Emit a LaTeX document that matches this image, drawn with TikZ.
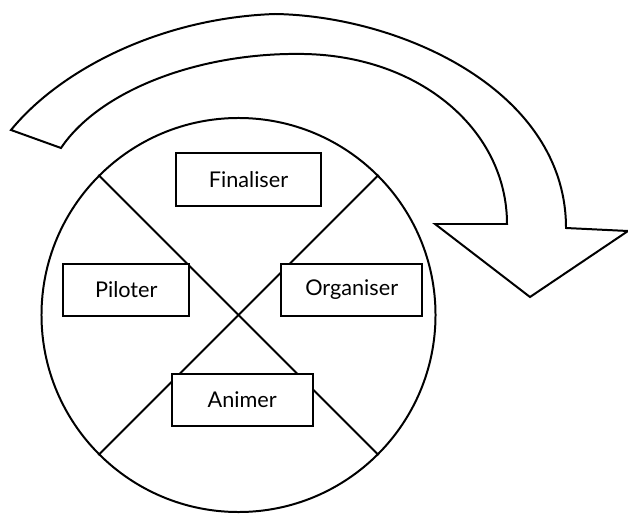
\documentclass[tikz,border=0pt]{standalone}
\usepackage{fontspec}
\setmainfont{Lato}
\begin{document}
\begin{tikzpicture}[x=0.03cm,y=-0.03cm,
  line width=1.7pt, line join=miter,
  stagebox/.style={draw, fill=white, inner sep=0pt, minimum height=1.57cm,
    font=\fontsize{18.5}{22}\selectfont},
  wheelshape/.style={draw, circle, minimum size=11.82cm, inner sep=0pt}]
\useasboundingbox (0,0) rectangle (628,515);
% wheel
\node[wheelshape] (wheel) at (238.5,315) {};
\draw (wheel.135) -- (wheel.-45);
\draw (wheel.45) -- (wheel.-135);
% stages
\node[stagebox, minimum width=4.35cm, minimum height=1.6cm] (fin) at (248.5,179.5) {Finaliser};
\node[stagebox, minimum width=3.78cm] (pil) at (126.3,290) {Piloter};
\node[stagebox, minimum width=4.23cm] (org) at (351.7,290) {Organiser};
\node[stagebox, minimum width=4.23cm] (ani) at (242.2,400) {Animer};
% curved arrow
\coordinate (tailout) at (11,130);
\coordinate (tailin) at (61,148);
\coordinate (outtop) at (275,14);
\coordinate (intop) at (304,54);
\coordinate (shaftout) at (566,228);
\coordinate (shaftin) at (507,224);
\coordinate (headright) at (628,231);
\coordinate (headleft) at (435,224);
\coordinate (tip) at (530,297);
\draw (tailout) .. controls (60,70) and (160,18) .. (outtop)
  .. controls (400,16) and (566,90) .. (shaftout)
  -- (headright) -- (tip) -- (headleft) -- (shaftin)
  .. controls (507,130) and (420,56) .. (intop)
  .. controls (200,52) and (100,90) .. (tailin) -- cycle;
\end{tikzpicture}
\end{document}
